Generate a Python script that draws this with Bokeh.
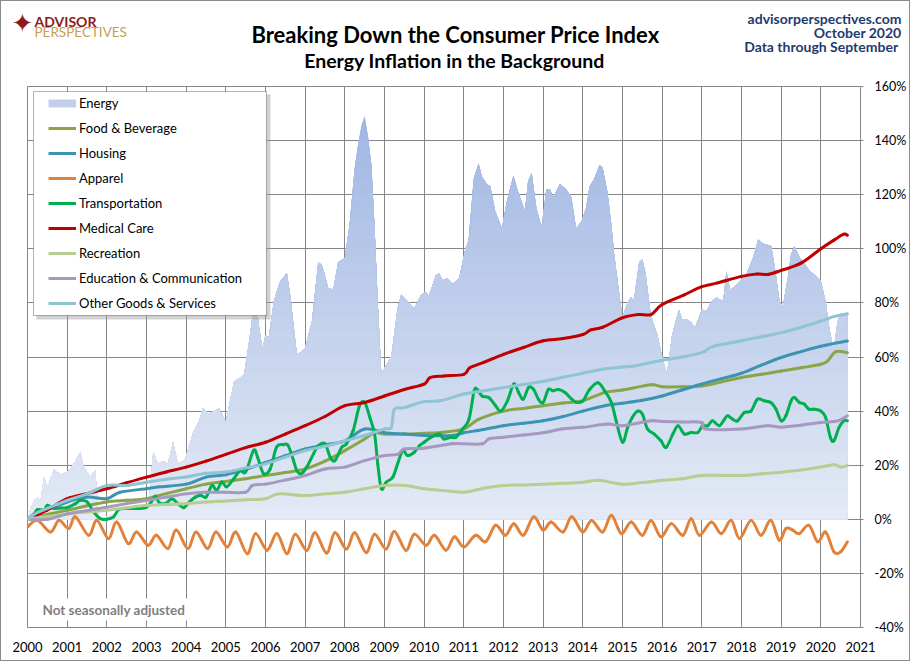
import numpy as np
from bokeh.plotting import figure
from bokeh.layouts import column, row
from bokeh.models import (Range1d, PrintfTickFormatter, Label, Legend, LegendItem,
                          BoxAnnotation, Spacer)
from bokeh.embed import file_html
from bokeh.resources import INLINE

# ---------------- data (percent change since Jan 2000) ----------------
years = list(range(2000, 2022))
pct_ticks = list(range(-40, 161, 20))

energy_t = [2000.00, 2000.08, 2000.17, 2000.25, 2000.33, 2000.42, 2000.50, 2000.58, 2000.67, 2000.83,
            2001.00, 2001.08, 2001.17, 2001.33, 2001.42, 2001.58, 2001.71, 2001.79, 2001.92, 2002.17,
            2002.42, 2002.67, 2002.92, 2003.04, 2003.17, 2003.29, 2003.42, 2003.54, 2003.67, 2003.79,
            2003.96, 2004.04, 2004.17, 2004.33, 2004.42, 2004.58, 2004.71, 2004.83, 2005.00, 2005.08,
            2005.21, 2005.33, 2005.46, 2005.58, 2005.67, 2005.75, 2005.83, 2005.92, 2006.00, 2006.08,
            2006.21, 2006.37, 2006.54, 2006.62, 2006.79, 2006.92, 2007.00, 2007.17, 2007.33, 2007.42,
            2007.50, 2007.58, 2007.71, 2007.83, 2008.00, 2008.12, 2008.25, 2008.33, 2008.42, 2008.50,
            2008.58, 2008.67, 2008.75, 2008.83, 2008.92, 2009.00, 2009.08, 2009.17, 2009.33, 2009.42,
            2009.58, 2009.75, 2009.92, 2010.04, 2010.12, 2010.29, 2010.37, 2010.46, 2010.58, 2010.71,
            2010.88, 2011.04, 2011.12, 2011.25, 2011.37, 2011.46, 2011.58, 2011.67, 2011.79, 2011.96,
            2012.08, 2012.25, 2012.37, 2012.54, 2012.62, 2012.71, 2012.83, 2012.96, 2013.08, 2013.17,
            2013.25, 2013.42, 2013.58, 2013.71, 2013.83, 2013.96, 2014.08, 2014.17, 2014.29, 2014.42,
            2014.50, 2014.62, 2014.71, 2014.79, 2014.92, 2015.00, 2015.12, 2015.21, 2015.29, 2015.42,
            2015.50, 2015.58, 2015.71, 2015.88, 2016.00, 2016.12, 2016.25, 2016.42, 2016.50, 2016.62,
            2016.71, 2016.83, 2017.00, 2017.12, 2017.25, 2017.37, 2017.54, 2017.62, 2017.71, 2017.83,
            2018.00, 2018.12, 2018.29, 2018.42, 2018.54, 2018.75, 2018.83, 2018.96, 2019.04, 2019.17,
            2019.25, 2019.33, 2019.46, 2019.58, 2019.71, 2019.83, 2020.00, 2020.12, 2020.21, 2020.29,
            2020.33, 2020.42, 2020.50, 2020.67]
energy_v = [0, 4.5, 7, 8, 7, 15.6, 12, 15, 18.5, 16.5,
            17.4, 18.6, 20.5, 24.8, 19.3, 15.6, 18, 1, 0.5, 2,
            5, 4, 4, 3.3, 25, 20.5, 21.5, 20.5, 28.6, 20.5,
            21.8, 25.5, 31.7, 36.6, 41, 39, 40, 41, 36, 42,
            51, 52, 53.6, 65, 75, 82, 72, 63, 68, 67,
            80.6, 88, 91, 83, 61, 62, 63.4, 73, 95, 94,
            90, 85.5, 85, 95, 96.6, 109, 130, 138, 145.6, 149,
            142, 131, 108, 80, 53.6, 56, 58, 60, 78, 83,
            80.6, 78, 83, 84, 82.5, 90, 91, 88.6, 89, 87,
            89, 100, 103, 126, 131.5, 126.6, 124, 123, 114, 107.6,
            117.4, 127, 121, 114, 125, 128, 115, 108, 122, 122,
            119, 124, 122, 119, 107.6, 110, 115, 123, 126, 131,
            130, 121, 110, 98, 83, 74.5, 80, 82, 81, 95,
            96, 91, 75.7, 68, 60, 53.6, 68, 77.5, 74, 74,
            73, 71, 77.5, 77, 80.6, 82, 80.6, 91.6, 85, 86,
            88.6, 90.5, 96.6, 103.4, 102, 101, 94, 80.6, 78.6, 89.6,
            98, 101, 97, 94.7, 92, 90.5, 88, 80.6, 71, 64.7,
            63, 73, 76, 76]

food_t = [2000.0, 2000.5, 2001.0, 2001.5, 2002.0, 2002.5, 2003.0, 2003.5, 2004.0, 2004.5,
          2005.0, 2005.5, 2006.0, 2006.5, 2007.0, 2007.5, 2008.0, 2008.5, 2008.75, 2009.0,
          2009.5, 2010.0, 2010.5, 2011.0, 2011.38, 2012.0, 2012.5, 2013.0, 2013.5, 2014.0,
          2014.55, 2015.0, 2015.72, 2016.0, 2016.5, 2017.0, 2017.5, 2018.0, 2018.5, 2019.0,
          2019.5, 2020.0, 2020.17, 2020.38, 2020.67]
food_v = [0, 1.8, 3.3, 5, 6.4, 7, 7.6, 9.5, 11.3, 13,
          14, 15, 16.2, 17.3, 18.6, 21.5, 25.4, 29.7, 32, 31.5,
          31.5, 31.8, 32.2, 33.4, 37, 40, 41, 42, 43, 43.8,
          46.9, 47.8, 49.7, 49, 49, 49.3, 50.8, 52.4, 53.6, 54.8,
          56, 57.3, 58.5, 62, 61.6]

housing_t = [2000.0, 2000.5, 2001.0, 2001.5, 2002.0, 2002.33, 2003.0, 2003.33, 2004.0, 2004.5,
             2005.0, 2005.5, 2006.0, 2006.5, 2007.0, 2007.5, 2008.0, 2008.5, 2009.0, 2009.5,
             2010.0, 2010.7, 2011.0, 2011.5, 2012.0, 2012.5, 2013.0, 2013.5, 2014.0, 2014.55,
             2015.0, 2015.5, 2016.0, 2016.5, 2017.0, 2017.5, 2018.0, 2018.5, 2019.0, 2019.5,
             2020.0, 2020.67]
housing_v = [0, 3.5, 6.4, 8.2, 7.6, 10, 11.3, 12, 13, 15.6,
             16.5, 18.5, 21, 23.5, 26, 27.5, 29, 33.4, 32, 31.5,
             31, 31, 32, 33.2, 34.6, 35.5, 36.4, 38, 40, 42,
             42.9, 44, 45.6, 47.8, 50, 52, 54, 57, 59.8, 62,
             64, 65.9]

apparel_t = [2000.00, 2000.25, 2000.58, 2000.79, 2001.04, 2001.21, 2001.54, 2001.75, 2002.04, 2002.25,
             2002.54, 2002.75, 2003.04, 2003.25, 2003.54, 2003.75, 2004.04, 2004.25, 2004.54, 2004.75,
             2005.04, 2005.25, 2005.54, 2005.75, 2006.04, 2006.29, 2006.54, 2006.75, 2007.04, 2007.25,
             2007.54, 2007.75, 2008.04, 2008.25, 2008.54, 2008.75, 2009.04, 2009.25, 2009.54, 2009.75,
             2010.05, 2010.26, 2010.55, 2010.76, 2011.00, 2011.30, 2011.55, 2011.80, 2012.05, 2012.26,
             2012.50, 2012.76, 2013.00, 2013.20, 2013.50, 2013.72, 2014.00, 2014.22, 2014.50, 2014.72,
             2014.97, 2015.22, 2015.50, 2015.72, 2015.97, 2016.23, 2016.52, 2016.73, 2016.94, 2017.24,
             2017.49, 2017.74, 2017.95, 2018.24, 2018.49, 2018.74, 2018.95, 2019.12, 2019.29, 2019.46,
             2019.70, 2019.92, 2020.12, 2020.33, 2020.50, 2020.67]
apparel_v = [-2.8, -0.4, -4.7, -0.4, -3.4, 0.9, -5.9, -0.4, -7.1, -1,
             -9, -4.7, -9.6, -5.9, -10.8, -4, -10.8, -4.7, -10.8, -4.7,
             -10.2, -4.7, -12.7, -5.3, -11.4, -5.3, -12.7, -5.5, -11.5, -5,
             -12.5, -5, -11, -5, -12.3, -5.5, -11, -4.5, -11.5, -5.5,
             -9.6, -5.9, -11.4, -6.5, -10.2, -5.9, -8.3, -2.2, -5.9, -1.6,
             -5.9, 0.9, -4, -1, -4.7, 0.9, -4.7, -0.4, -4.7, 1.5,
             -5.3, -1, -5.9, -0.4, -6.5, -1.6, -5.9, 0.2, -5.9, -1,
             -5.3, -0.4, -7.1, -0.4, -5.9, -0.4, -7.7, -3.4, -4, -5.3,
             -2.2, -8.3, -4.7, -12, -12, -8.3]

transport_t = [2000.00, 2000.17, 2000.25, 2000.42, 2000.50, 2000.67, 2000.83, 2001.00, 2001.21, 2001.33,
               2001.50, 2001.67, 2001.84, 2002.00, 2002.17, 2002.30, 2002.50, 2002.85, 2003.00, 2003.12,
               2003.22, 2003.33, 2003.50, 2003.64, 2003.79, 2003.94, 2004.08, 2004.23, 2004.37, 2004.50,
               2004.65, 2004.77, 2004.90, 2005.02, 2005.20, 2005.36, 2005.50, 2005.70, 2005.80, 2005.95,
               2006.12, 2006.28, 2006.45, 2006.57, 2006.70, 2006.79, 2006.90, 2007.04, 2007.21, 2007.33,
               2007.50, 2007.63, 2007.75, 2007.92, 2008.04, 2008.21, 2008.37, 2008.50, 2008.63, 2008.75,
               2008.83, 2008.92, 2009.04, 2009.21, 2009.33, 2009.46, 2009.58, 2009.75, 2009.88, 2010.00,
               2010.17, 2010.38, 2010.50, 2010.67, 2010.80, 2010.97, 2011.13, 2011.26, 2011.34, 2011.46,
               2011.63, 2011.80, 2011.93, 2012.10, 2012.26, 2012.38, 2012.50, 2012.63, 2012.76, 2012.88,
               2013.00, 2013.13, 2013.25, 2013.38, 2013.55, 2013.72, 2013.84, 2014.00, 2014.17, 2014.38,
               2014.55, 2014.72, 2014.84, 2015.00, 2015.13, 2015.25, 2015.38, 2015.50, 2015.63, 2015.80,
               2015.97, 2016.10, 2016.27, 2016.40, 2016.56, 2016.73, 2016.90, 2017.02, 2017.15, 2017.27,
               2017.44, 2017.57, 2017.65, 2017.78, 2017.90, 2018.07, 2018.24, 2018.40, 2018.57, 2018.74,
               2018.87, 2019.00, 2019.12, 2019.25, 2019.33, 2019.46, 2019.58, 2019.70, 2019.83, 2020.00,
               2020.12, 2020.24, 2020.33, 2020.46, 2020.58, 2020.67]
transport_v = [0, 2, 3.6, 3.5, 5.2, 4, 4.2, 4.3, 5.8, 7,
               6.4, 2.7, 0.2, 0, 0.9, 3.6, 4, 4, 4.5, 6.4,
               8.5, 6, 6, 7.6, 5.8, 4.3, 6.4, 8.2, 8.9, 8.2,
               12.5, 10.7, 13.8, 12, 15, 18, 17.5, 25.5, 23, 16.9,
               18.7, 26.7, 27.6, 27.3, 22, 18, 16.8, 19.3, 24.2, 27.2,
               27.9, 23, 21.7, 26.6, 27.9, 32.8, 42, 43.2, 37.7, 31.5,
               20.5, 11.3, 13.7, 15.6, 20.5, 25.4, 23.6, 24.8, 27.2, 28.5,
               30.3, 31.5, 29.7, 30.3, 30.3, 33.4, 37, 47.5, 48, 45.6,
               45, 42, 40, 43.8, 50, 46.9, 44.4, 48.7, 48, 44.4,
               43.2, 48, 47.5, 48, 46.9, 44.4, 43.2, 43.8, 48, 50.5,
               47.5, 43.2, 36.4, 28.5, 34, 37.7, 40, 38.9, 33.4, 31.5,
               29, 26.6, 31.5, 34.6, 31.5, 32.1, 32.1, 34.6, 34.6, 36.4,
               34.6, 37, 38.3, 37, 36.4, 39.5, 40, 44.4, 43.8, 43.2,
               40.7, 36.4, 38.3, 43.8, 45, 43.2, 42.6, 40.7, 40.7, 40,
               37.7, 30.3, 29, 34, 36.4, 36.4]

medical_t = [2000.0, 2000.5, 2001.0, 2001.5, 2002.0, 2002.5, 2003.0, 2003.5, 2004.0, 2004.5,
             2005.0, 2005.5, 2006.0, 2006.5, 2007.0, 2007.5, 2008.0, 2008.5, 2009.0, 2009.5,
             2010.0, 2010.15, 2010.5, 2011.0, 2011.15, 2011.5, 2012.0, 2012.5, 2013.0, 2013.5,
             2014.0, 2014.2, 2014.5, 2015.0, 2015.4, 2015.72, 2016.0, 2016.56, 2017.0, 2017.4,
             2018.0, 2018.4, 2018.66, 2019.0, 2019.5, 2020.0, 2020.34, 2020.58, 2020.67]
medical_v = [0, 3.5, 7.6, 9.5, 11.3, 13.5, 15.6, 17.5, 19.3, 21.5,
             24, 26.5, 28.5, 31.5, 34.6, 38, 42, 43.2, 45.6, 48,
             50, 52.4, 53, 53.6, 56, 58, 61, 63.5, 66, 66.8,
             68.3, 70, 71, 74.5, 75.7, 75.7, 79.4, 83, 86, 87.4,
             89.8, 90.7, 90.5, 92, 94.7, 100, 103.3, 105.4, 105]

recreation_t = [2000.0, 2000.5, 2001.0, 2001.5, 2002.0, 2002.5, 2003.0, 2003.5, 2004.0, 2004.5,
                2005.0, 2005.5, 2006.0, 2006.33, 2007.0, 2007.5, 2008.0, 2008.5, 2009.0, 2009.5,
                2010.0, 2010.5, 2011.0, 2011.5, 2012.0, 2012.5, 2013.0, 2013.5, 2014.0, 2014.4,
                2015.0, 2015.5, 2016.0, 2016.5, 2017.0, 2017.5, 2018.0, 2018.5, 2019.0, 2019.5,
                2020.0, 2020.34, 2020.5, 2020.67]
recreation_v = [0, 1, 2, 2.7, 3.3, 4.3, 5.2, 5.5, 5.8, 6.4,
                6.8, 7.2, 7.6, 9.4, 8.8, 9.4, 10, 11.3, 12.5, 12.5,
                11.3, 10.6, 10, 11.5, 12.5, 12.7, 13, 13.3, 13.7, 14.4,
                13, 13.6, 14.4, 15, 16.2, 16.2, 16.2, 16.8, 17.4, 18.2,
                19.3, 20.2, 19.3, 19.9]

education_t = [2000.0, 2000.5, 2001.0, 2001.5, 2002.0, 2002.5, 2003.0, 2003.5, 2004.0, 2004.5,
               2005.0, 2005.5, 2005.67, 2006.0, 2006.5, 2007.0, 2007.5, 2008.0, 2008.5, 2009.0,
               2009.33, 2009.5, 2010.0, 2010.7, 2011.0, 2011.47, 2011.63, 2012.0, 2012.5, 2013.0,
               2013.47, 2014.0, 2014.63, 2015.0, 2015.72, 2016.0, 2016.5, 2017.0, 2017.1, 2018.0,
               2018.66, 2019.0, 2019.5, 2020.0, 2020.43, 2020.67]
education_v = [0, 0, 2, 3.2, 4.5, 5.8, 7, 8.2, 9.4, 10,
               10, 10, 12.5, 13, 14.5, 16.2, 18.6, 19.3, 21.7, 23.6,
               24, 26, 26.3, 27.9, 27.9, 27.9, 29.7, 30.3, 31.2, 32,
               33.4, 34, 35.2, 34.6, 36.4, 36.2, 36, 35.8, 33.4, 33.4,
               34.6, 34, 34.8, 35.8, 36.4, 38.3]

other_t = [2000.0, 2000.25, 2000.5, 2000.75, 2001.0, 2001.5, 2002.0, 2002.5, 2003.0, 2003.5,
           2004.0, 2004.5, 2005.0, 2005.5, 2006.0, 2006.5, 2007.0, 2007.5, 2008.0, 2008.5,
           2009.0, 2009.17, 2009.25, 2009.5, 2010.0, 2010.4, 2011.0, 2011.5, 2012.0, 2012.5,
           2013.0, 2013.5, 2014.0, 2014.5, 2015.0, 2015.3, 2016.0, 2016.5, 2017.0, 2017.3,
           2018.0, 2018.5, 2019.0, 2019.5, 2020.0, 2020.34, 2020.67]
other_v = [0, 2.5, 4, 5.5, 7, 9.4, 12.5, 12.5, 13.7, 14.8,
           15.6, 17, 17.5, 19, 20.5, 23, 25.4, 27, 29, 31,
           33.4, 34, 40.7, 41.3, 43.5, 43.8, 46.3, 47.5, 48.7, 49.8,
           51, 52.5, 54, 55.5, 56.3, 56.7, 58.8, 60, 61.6, 64,
           66, 67.5, 69, 71, 73.3, 75, 76]

series = [
    ("Food & Beverage", food_t, food_v, "#8BA446"),
    ("Housing", housing_t, housing_v, "#3D93B2"),
    ("Apparel", apparel_t, apparel_v, "#E2823A"),
    ("Transportation", transport_t, transport_v, "#00B050"),
    ("Medical Care", medical_t, medical_v, "#C00000"),
    ("Recreation", recreation_t, recreation_v, "#B6CE90"),
    ("Education & Communication", education_t, education_v, "#A698C0"),
    ("Other Goods & Services", other_t, other_v, "#8FC4D3"),
]

FONT = "Lato"
GRID = "#868686"
NAVY = "#1F3B6E"
EDGE = "#8c8c8c"

# ---------------- header (titles, logo, source) ----------------
# header occupies page pixels x 1..909, y 1..77; ranges chosen so data units == page pixels
head = figure(width=908, height=76, x_range=Range1d(1, 909), y_range=Range1d(77, 1),
              output_backend="svg", toolbar_location=None, x_axis_location=None,
              y_axis_location=None, min_border=0, min_border_left=0, min_border_right=0,
              min_border_top=0, min_border_bottom=0, outline_line_color=None,
              background_fill_color="white", border_fill_color="white")
head.xgrid.visible = False
head.ygrid.visible = False
head.frame_align = False


def hlab(text, x, y, size, color, style="bold", align="left", font=FONT, baseline="alphabetic"):
    head.add_layout(Label(x=x, y=y, text=text, text_font=font, text_font_size=size,
                          text_font_style=style, text_color=color, text_align=align,
                          text_baseline=baseline))


hlab("Breaking Down the Consumer Price Index", 455, 34, "22px", "black", align="center")
hlab("Energy Inflation in the Background", 454, 60, "19.5px", "black", align="center")
hlab("advisorperspectives.com", 901, 18, "14px", NAVY, align="right")
hlab("October 2020", 901, 32, "14px", NAVY, align="right")
hlab("Data through  September", 901, 46, "14px", NAVY, align="right")
hlab("\u2726", 22, 22, "26px", "#8B1A1A", style="normal", align="center", font="DejaVu Sans",
     baseline="middle")
hlab("\u25CF", 22, 22, "11px", "#8B1A1A", style="normal", align="center", font="DejaVu Sans",
     baseline="middle")
hlab("ADVISOR", 34, 21, "14px", "#8B1A1A")
hlab("PERSPECTIVES", 34, 31, "13.5px", "#C5A050", style="normal")

# ---------------- main chart ----------------
p = figure(width=908, height=583, x_range=Range1d(2000, 2021), y_range=Range1d(-40, 160),
           output_backend="svg", toolbar_location=None, y_axis_location="right",
           min_border_left=26, min_border_right=47, min_border_top=9, min_border_bottom=33,
           background_fill_color="white", border_fill_color="white")
p.outline_line_color = GRID
p.frame_align = False

p.xaxis.ticker = years
p.xaxis.formatter = PrintfTickFormatter(format="%d")
p.xaxis.axis_line_color = None
p.xaxis.major_tick_line_color = None
p.xaxis.minor_tick_line_color = None
p.xaxis.major_label_text_font = FONT
p.xaxis.major_label_text_font_size = "13px"
p.xaxis.major_label_text_color = "black"
p.xaxis.major_label_standoff = 8

p.yaxis.ticker = pct_ticks
p.yaxis.formatter = PrintfTickFormatter(format="%d%%")
p.yaxis.axis_line_color = GRID
p.yaxis.major_tick_line_color = GRID
p.yaxis.major_tick_out = 3
p.yaxis.major_tick_in = 0
p.yaxis.minor_tick_line_color = None
p.yaxis.major_label_text_font = FONT
p.yaxis.major_label_text_font_size = "12.5px"
p.yaxis.major_label_text_color = "black"
p.yaxis.major_label_standoff = 11

p.xgrid.grid_line_color = GRID
p.ygrid.grid_line_color = GRID


def mix(c0, c1, f):
    a = [int(c0[i:i + 2], 16) for i in (1, 3, 5)]
    b = [int(c1[i:i + 2], 16) for i in (1, 3, 5)]
    return "#%02x%02x%02x" % tuple(int(round(a[k] + (b[k] - a[k]) * f)) for k in range(3))


# energy area with a vertical gradient (stacked bands)
ev = np.array(energy_v, dtype=float)
bottom_col, top_col = "#E4EAF6", "#9FB6E2"
for lvl in np.arange(155, 0, -5):
    f = min(1.0, (lvl - 2.5) / 150.0)
    p.varea(x=energy_t, y1=0, y2=np.minimum(ev, lvl), fill_color=mix(bottom_col, top_col, f),
            fill_alpha=1.0)


def smooth_segments(t, v):
    """Catmull-Rom style control points so the line is drawn smoothed (like a smoothed line)."""
    t = np.asarray(t, dtype=float)
    v = np.asarray(v, dtype=float)
    qt = np.concatenate([[t[0]], t, [t[-1]]])
    qv = np.concatenate([[v[0]], v, [v[-1]]])
    n = len(t)
    d = dict(x0=qt[1:n], y0=qv[1:n], x1=qt[2:n + 1], y1=qv[2:n + 1])
    d["cx0"] = qt[1:n] + (qt[2:n + 1] - qt[0:n - 1]) / 6.0
    d["cy0"] = qv[1:n] + (qv[2:n + 1] - qv[0:n - 1]) / 6.0
    d["cx1"] = qt[2:n + 1] - (qt[3:n + 2] - qt[1:n]) / 6.0
    d["cy1"] = qv[2:n + 1] - (qv[3:n + 2] - qv[1:n]) / 6.0
    return d


keys = []
energy_key = p.line(energy_t, energy_v, line_color="#C2D0EE", line_width=8, visible=False)
keys.append(("Energy", energy_key))
for name, t, v, col in series:
    p.bezier(line_color=col, line_width=3, line_cap="round", **smooth_segments(t, v))
    k = p.line(t, v, line_color=col, line_width=3, visible=False)
    keys.append((name, k))

# legend frame + shadow (screen units relative to the plot frame)
su = dict(left_units="screen", right_units="screen", top_units="screen", bottom_units="screen")
p.add_layout(BoxAnnotation(left=9, right=243, top=533, bottom=308, fill_color="#9a9a9a",
                           fill_alpha=0.45, line_alpha=0, **su))
p.add_layout(BoxAnnotation(left=6, right=239, top=536, bottom=312, fill_color="white",
                           fill_alpha=1.0, line_color="black", line_width=1, **su))

legend = Legend(items=[LegendItem(label=n, renderers=[r]) for n, r in keys],
                location=(19, 312), label_text_font=FONT, label_text_font_size="13px",
                label_text_color="black", glyph_width=28, glyph_height=20, label_height=20,
                spacing=5, padding=2, margin=0, label_standoff=3, border_line_alpha=0,
                background_fill_alpha=0, inactive_fill_alpha=0)
p.add_layout(legend)

p.add_layout(Label(x=12, y=18, x_units="screen", y_units="screen", text="Not seasonally adjusted",
                   text_font=FONT, text_font_size="13.5px", text_font_style="bold",
                   text_color="#7F7F7F", text_baseline="middle", background_fill_color="white",
                   background_fill_alpha=1.0, padding=3))

# thin grey frame around the whole graphic
edge = {"background-color": EDGE}
inner = column(head, p, spacing=0)
page = column(
    Spacer(width=910, height=1, styles=edge),
    row(Spacer(width=1, height=659, styles=edge), inner, Spacer(width=1, height=659, styles=edge),
        spacing=0),
    Spacer(width=910, height=1, styles=edge),
    spacing=0,
)

open("out.html", "w").write(file_html(page, INLINE))
